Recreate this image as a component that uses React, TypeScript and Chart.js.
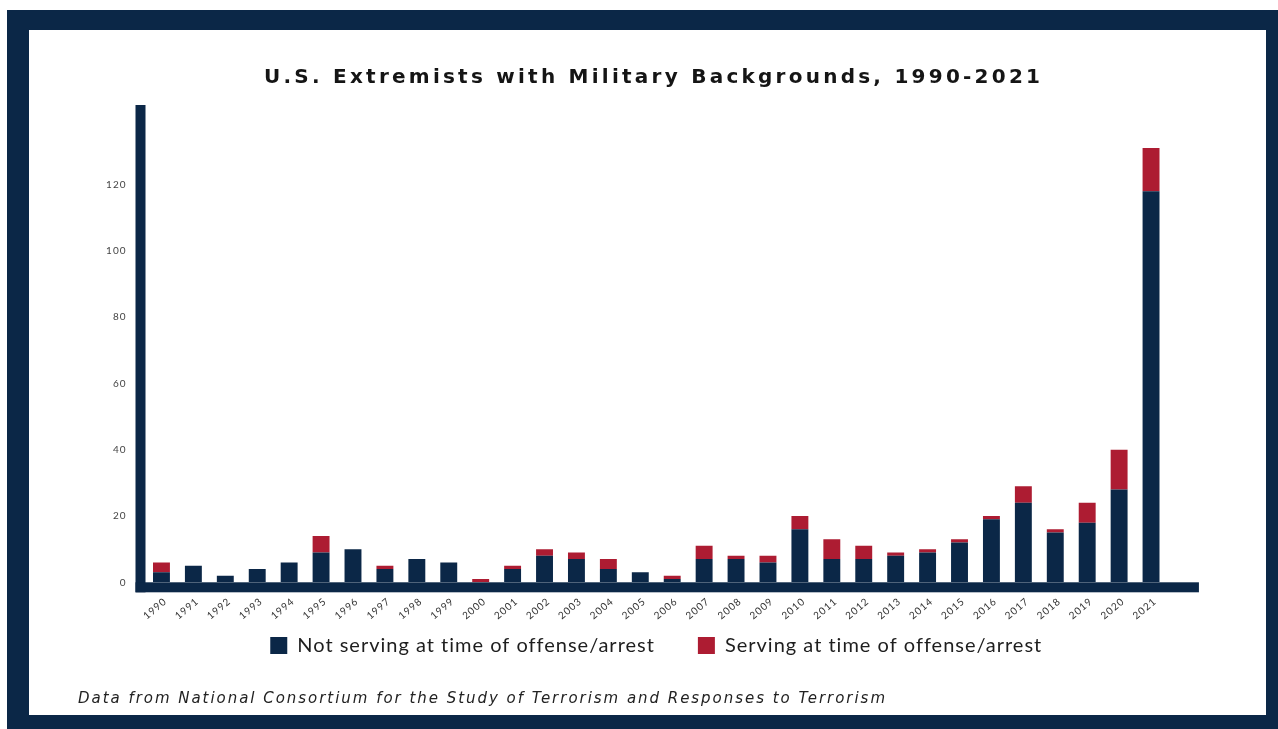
import React, { useEffect, useRef } from 'react';
import { Chart, registerables } from 'chart.js';

Chart.register(...registerables);

const years = [
  '1990', '1991', '1992', '1993', '1994', '1995', '1996', '1997', '1998', '1999',
  '2000', '2001', '2002', '2003', '2004', '2005', '2006', '2007', '2008', '2009',
  '2010', '2011', '2012', '2013', '2014', '2015', '2016', '2017', '2018', '2019',
  '2020', '2021',
];
const notServing = [3, 5, 2, 4, 6, 9, 10, 4, 7, 6, 0, 4, 8, 7, 4, 3, 1, 7, 7, 6, 16, 7, 7, 8, 9, 12, 19, 24, 15, 18, 28, 118];
const serving = [3, 0, 0, 0, 0, 5, 0, 1, 0, 0, 1, 1, 2, 2, 3, 0, 1, 4, 1, 2, 4, 6, 4, 1, 1, 1, 1, 5, 1, 6, 12, 13];
const yTickValues = [0, 20, 40, 60, 80, 100, 120];
const yMax = 144;
const seriesNames = ['Not serving at time of offense/arrest', 'Serving at time of offense/arrest'];
const titleText = 'U.S. Extremists with Military Backgrounds, 1990-2021';
const sourceText = 'Data from National Consortium for the Study of Terrorism and Responses to Terrorism';

const NAVY = '#0b2747';
const RED = '#ad1c32';
const FONT = 'Lato, "Open Sans", sans-serif';
const WIDE = '"DejaVu Sans", Lato, sans-serif';

const spacingPlugin = {
  id: 'globalSpacing',
  beforeLayout(chart: any) {
    chart.ctx.letterSpacing = '1px';
  },
  beforeDraw(chart: any) {
    chart.ctx.letterSpacing = '1px';
  },
};

// place the legend row at its spot below the rotated year labels
const legendPlacePlugin = {
  id: 'legendPlace',
  afterLayout(chart: any) {
    const lg = chart.legend;
    if (!lg) return;
    const h = 62.5;
    lg.top = chart.chartArea.bottom + 10.2;
    lg.height = h;
    lg.bottom = lg.top + h;
  },
};

const axisLinesPlugin = {
  id: 'axisLines',
  afterDatasetsDraw(chart: any) {
    const { ctx, chartArea, scales } = chart;
    const zero = scales.y.getPixelForValue(0);
    const top = scales.y.getPixelForValue(yMax);
    const slot = chartArea.width / years.length;
    const w = 10;
    ctx.save();
    ctx.fillStyle = NAVY;
    ctx.fillRect(chartArea.left - w, top, w, zero + w - top);
    ctx.fillRect(chartArea.left - w, zero, chartArea.right + slot - (chartArea.left - w), w);
    ctx.restore();
  },
};

function drawSpaced(ctx: any, text: string, font: string, x: number, y: number, width: number, color: string) {
  ctx.save();
  ctx.font = font;
  ctx.letterSpacing = '0px';
  const m = ctx.measureText(text).width;
  const sp = (width - m) / (text.length - 1);
  ctx.letterSpacing = sp + 'px';
  ctx.fillStyle = color;
  ctx.textAlign = 'left';
  ctx.textBaseline = 'alphabetic';
  ctx.fillText(text, x, y);
  ctx.restore();
}

const textPlugin = {
  id: 'titleAndSource',
  afterDraw(chart: any) {
    const ctx = chart.ctx;
    drawSpaced(ctx, titleText, `700 20px ${WIDE}`, 235, 53, 776, '#151515');
    drawSpaced(ctx, sourceText, `oblique 400 15px ${WIDE}`, 49, 673, 807, '#222222');
  },
};

export default function App() {
  const canvasRef = useRef<HTMLCanvasElement | null>(null);

  useEffect(() => {
    const canvas = canvasRef.current;
    if (!canvas) return;
    const chart = new Chart(canvas, {
      type: 'bar',
      data: {
        labels: years,
        datasets: [
          {
            label: seriesNames[0],
            data: notServing,
            backgroundColor: NAVY,
            borderWidth: 0,
            barPercentage: 0.53,
            categoryPercentage: 1,
          },
          {
            label: seriesNames[1],
            data: serving,
            backgroundColor: RED,
            borderWidth: 0,
            barPercentage: 0.53,
            categoryPercentage: 1,
          },
        ],
      },
      options: {
        responsive: false,
        animation: false,
        layout: { padding: { top: 75, right: 99, bottom: 60, left: 0 } },
        plugins: {
          title: { display: false },
          tooltip: { enabled: false },
          legend: {
            display: true,
            position: 'bottom',
            fullSize: false,
            maxHeight: 32.7,
            labels: {
              boxWidth: 17,
              boxHeight: 17,
              padding: 43,
              color: '#1e1e1e',
              font: { family: FONT, size: 20, weight: '400' },
            },
          },
        },
        scales: {
          x: {
            stacked: true,
            grid: { display: false, drawTicks: false },
            border: { display: false },
            ticks: {
              autoSkip: false,
              minRotation: 40,
              maxRotation: 40,
              padding: 13,
              labelOffset: 4,
              color: '#333333',
              font: { family: FONT, size: 10, weight: '400' },
            },
            afterFit(scale: any) {
              scale.height = 40;
            },
          },
          y: {
            stacked: true,
            min: 0,
            max: yMax,
            grid: { display: false, drawTicks: false },
            border: { display: false },
            ticks: {
              padding: 19,
              color: '#444444',
              font: { family: FONT, size: 10, weight: '400' },
            },
            afterBuildTicks(scale: any) {
              scale.ticks = yTickValues.map((v) => ({ value: v }));
            },
            afterFit(scale: any) {
              scale.width = 116.5;
            },
          },
        },
      },
      plugins: [spacingPlugin, legendPlacePlugin, axisLinesPlugin, textPlugin],
    } as any);
    return () => chart.destroy();
  }, []);

  return (
    <div style={{ position: 'fixed', left: 0, top: 0, width: 1278, height: 729, background: '#ffffff', overflow: 'hidden' }}>
      <div style={{ position: 'absolute', left: 7, top: 10, width: 1271, height: 719, background: NAVY }} />
      <div style={{ position: 'absolute', left: 29, top: 30, width: 1237, height: 685, background: '#ffffff' }}>
        <canvas ref={canvasRef} width={1237} height={685} style={{ display: 'block' }} />
      </div>
    </div>
  );
}
